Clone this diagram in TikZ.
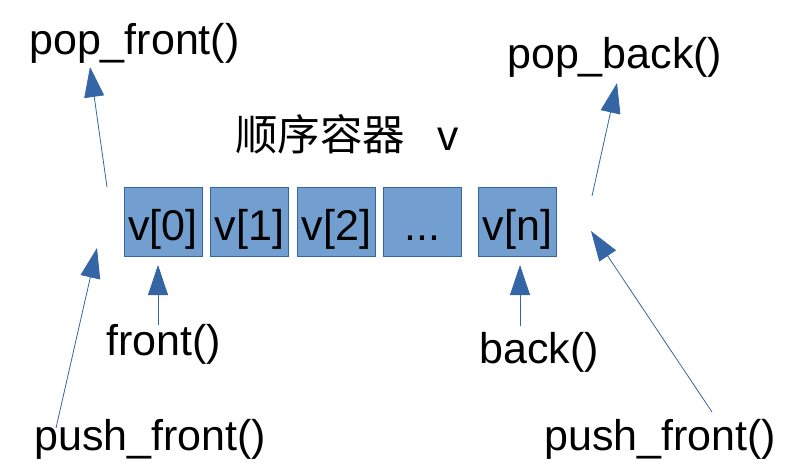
\documentclass[tikz,border=0pt]{standalone}
\usepackage{fontspec}
\setmainfont{Liberation Sans}
\newfontfamily\cjk{Noto Sans CJK SC}
\usetikzlibrary{arrows.meta}
\definecolor{boxfill}{HTML}{729FCF}
\definecolor{boxline}{HTML}{3465A4}
\tikzset{
  cell/.style={draw=boxline, fill=boxfill, line width=0.8pt, minimum width=78pt, minimum height=69pt,
    inner sep=0pt, text height=53pt, text depth=16pt, font=\fontsize{43}{50}\selectfont},
  lbl/.style={anchor=base west, inner sep=0pt, font=\fontsize{43}{50}\selectfont},
  conn/.style={draw=boxline, line width=0.8pt, -{Triangle[length=30pt,width=20pt,fill=boxline]}},
}
\begin{document}
\begin{tikzpicture}[x=1pt,y=-1pt]
\path[use as bounding box] (0,0) rectangle (791,475);
% cells
\node[cell] (c0) at (163,221.5) {v[0]};
\node[cell] (c1) at (249.5,221.5) {v[1]};
\node[cell] (c2) at (336.5,221.5) {v[2]};
\node[cell] (c3) at (422.5,221.5) {...};
\node[cell] (cn) at (517.5,221.5) {v[n]};
% title
\node[lbl, font=\fontsize{42.5}{50}\selectfont] (title) at (235,150) {{\cjk 顺序容器}\hspace{32pt}v};
% labels
\node[lbl] (popf) at (29,54) {pop\_front()};
\node[lbl] (popb) at (507,68) {pop\_back()};
\node[lbl] (front) at (106,355) {front()};
\node[lbl] (back) at (479,363) {back()};
\node[lbl] (pushl) at (34,450) {push\_front()};
\node[lbl] (pushr) at (544,450) {push\_front()};
% connector end points
\coordinate (pf0) at (107,187);
\coordinate (pf1) at (90,67);
\coordinate (pb0) at (592,196);
\coordinate (pb1) at (617,83);
\coordinate (fr0) at (158,325);
\coordinate (fr1) at (158,265);
\coordinate (bk0) at (520,326);
\coordinate (bk1) at (520,265);
\coordinate (pl0) at (56,428);
\coordinate (pl1) at (97,248);
\coordinate (pr0) at (712,412);
\coordinate (pr1) at (591,231);
% connectors
\draw[conn] (pf0) -- (pf1);
\draw[conn] (pb0) -- (pb1);
\draw[conn] (fr0) -- (fr1);
\draw[conn] (bk0) -- (bk1);
\draw[conn] (pl0) -- (pl1);
\draw[conn] (pr0) -- (pr1);
\end{tikzpicture}
\end{document}
